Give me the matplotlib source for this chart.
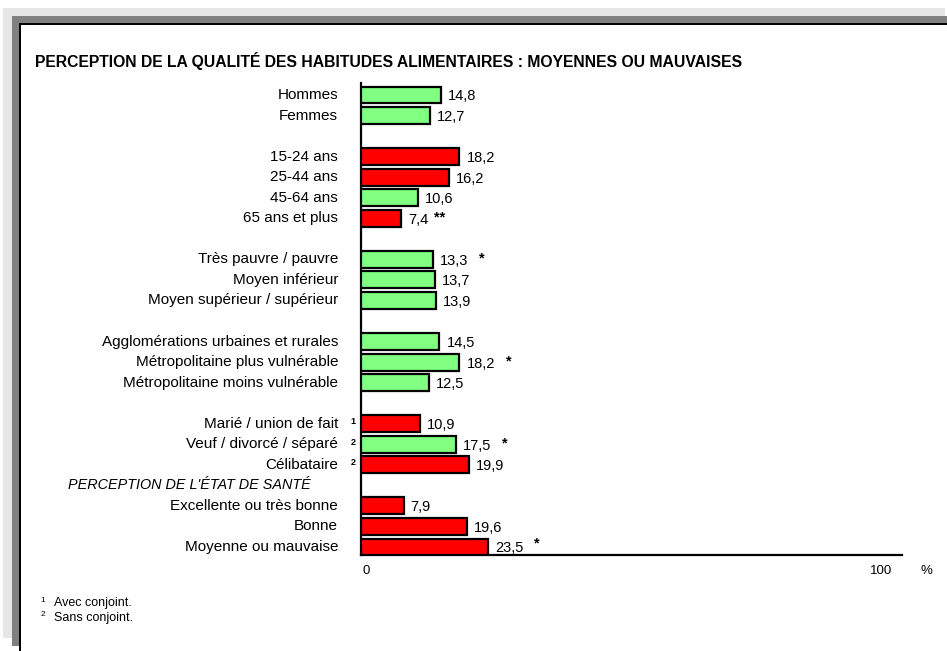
import matplotlib
matplotlib.use("Agg")
import matplotlib.pyplot as plt
from matplotlib.patches import Rectangle

plt.rcParams['font.family'] = ['Liberation Sans', 'DejaVu Sans']

title = "PERCEPTION DE LA QUALITÉ DES HABITUDES ALIMENTAIRES : MOYENNES OU MAUVAISES"
categories = ["Hommes", "Femmes",
              "15-24 ans", "25-44 ans", "45-64 ans", "65 ans et plus",
              "Très pauvre / pauvre", "Moyen inférieur", "Moyen supérieur / supérieur",
              "Agglomérations urbaines et rurales", "Métropolitaine plus vulnérable",
              "Métropolitaine moins vulnérable",
              "Marié / union de fait", "Veuf / divorcé / séparé", "Célibataire",
              "Excellente ou très bonne", "Bonne", "Moyenne ou mauvaise"]
values = [14.8, 12.7, 18.2, 16.2, 10.6, 7.4, 13.3, 13.7, 13.9, 14.5, 18.2, 12.5,
          10.9, 17.5, 19.9, 7.9, 19.6, 23.5]
significant = [False, False, True, True, False, True, False, False, False, False, False,
               False, True, False, True, True, True, True]
marks = ["", "", "", "", "", "**", "*", "", "", "", "*", "", "", "*", "", "", "", "*"]
notes = ["", "", "", "", "", "", "", "", "", "", "", "", "1", "2", "2", "", "", ""]
rows = [0, 1, 3, 4, 5, 6, 8, 9, 10, 12, 13, 14, 16, 17, 18, 20, 21, 22]
section_header = "PERCEPTION DE L'ÉTAT DE SANTÉ"
section_row = 19
footnotes = [("1", "Avec conjoint."), ("2", "Sans conjoint.")]

W, H = 947, 651
fig = plt.figure(figsize=(W / 100, H / 100), dpi=100)
PX = 0.72  # points per pixel

def prect(x0, y0, x1, y1, color):
    fig.patches.append(Rectangle((x0 / W, 1 - y1 / H), (x1 - x0) / W, (y1 - y0) / H,
                                 transform=fig.transFigure, facecolor=color,
                                 edgecolor='none', zorder=-10))

prect(3, 8, 945, 638, '#e6e6e6')
prect(12, 16, 947, 646, '#808080')
prect(19, 23, 947, 651, '#000000')
prect(21, 25, 947, 651, '#ffffff')

ax_l, ax_r, ax_t, ax_b = 361, 902, 83, 555
ax = fig.add_axes([ax_l / W, 1 - ax_b / H, (ax_r - ax_l) / W, (ax_b - ax_t) / H])
ax.patch.set_alpha(0)
ax.set_xlim(0, 100)
ax.set_ylim(22.39, -0.584)

colors = ['#ff0000' if s else '#80ff80' for s in significant]
ax.barh(rows, values, height=0.82, color=colors, edgecolor='black', linewidth=1.6, zorder=3)

for r, v, m, n, c in zip(rows, values, marks, notes, categories):
    ax.annotate(f"{v:.1f}".replace('.', ','), (v, r), xytext=(7 * PX, -1.5 * PX),
                textcoords='offset points', ha='left', va='center', fontsize=10.5)
    if m:
        dy = 4 if r == 22 else 1
        ax.annotate(m, (v, r), xytext=((49 if m == "*" else 39) * PX, dy * PX),
                    textcoords='offset points', ha='center', va='center',
                    fontsize=10.5, fontweight='bold')
    if n:
        ax.annotate(n, (0, r), xytext=(-8 * PX, 2 * PX), textcoords='offset points',
                    ha='center', va='center', fontsize=6.5, fontweight='bold')
    ax.annotate(c, (0, r), xytext=(-23 * PX, 0), textcoords='offset points',
                ha='right', va='center', fontsize=11)

ax.annotate(section_header, (0, section_row), xycoords=('figure fraction', 'data'),
            xytext=(68 * PX, 0), textcoords='offset points',
            ha='left', va='center', fontsize=10.4, fontstyle='italic')

for s in ['top', 'right']:
    ax.spines[s].set_visible(False)
for s in ['left', 'bottom']:
    ax.spines[s].set_linewidth(1.6)
    ax.spines[s].set_color('black')
ax.set_xticks([])
ax.set_yticks([])

fig.text(366 / W, 1 - 571 / H, "0", ha='center', va='center', fontsize=9.5)
fig.text(881 / W, 1 - 571 / H, "100", ha='center', va='center', fontsize=9.5)
fig.text(926 / W, 1 - 571 / H, "%", ha='center', va='center', fontsize=9.5)

fig.text(35 / W, 1 - 61 / H, title, ha='left', va='center', fontsize=11.3, fontweight='bold')

for i, (n, t) in enumerate(footnotes):
    y = 1 - (603 + 15 * i) / H
    fig.text(43 / W, y + 3 / H, n, ha='center', va='center', fontsize=6)
    fig.text(54 / W, y, t, ha='left', va='center', fontsize=9)

fig.savefig("out.png", dpi=100)
